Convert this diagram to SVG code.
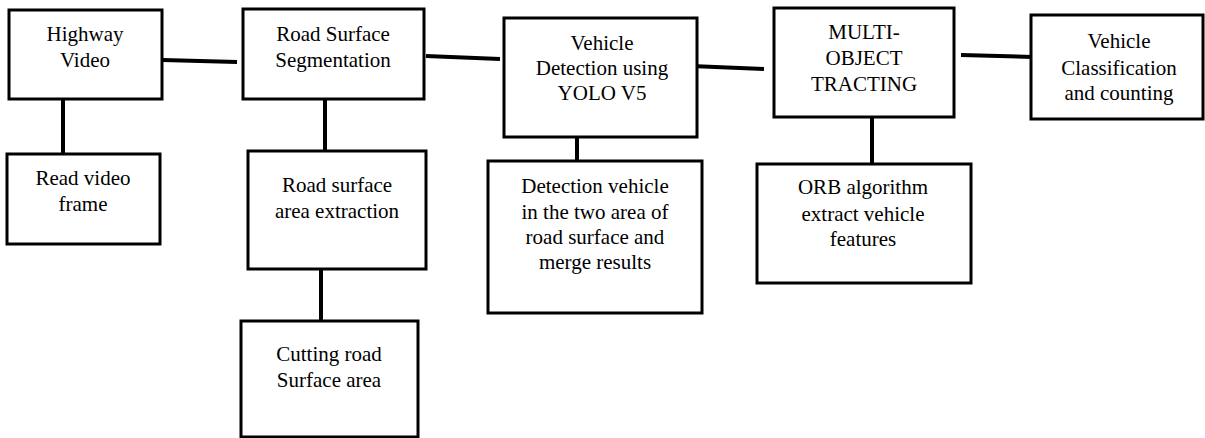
<svg xmlns="http://www.w3.org/2000/svg" width="1205" height="438" viewBox="0 0 1205 438">
<style>
.box{fill:#fff;stroke:#000;stroke-width:3}
.t{fill:#000;text-anchor:middle}
.c{stroke:#000;stroke-width:4;fill:none}
</style>
<rect width="1205" height="438" fill="#fff"/>
<g id="connectors">
<line class="c" x1="163" y1="60" x2="237" y2="62"/>
<line class="c" x1="63" y1="93" x2="63" y2="155"/>
<line class="c" x1="325" y1="96" x2="325" y2="151"/>
<line class="c" x1="321" y1="258" x2="321" y2="321"/>
<line class="c" x1="426" y1="56" x2="500" y2="59"/>
<line class="c" x1="577" y1="122" x2="577" y2="161"/>
<line class="c" x1="691" y1="66" x2="764" y2="69"/>
<line class="c" x1="961" y1="55" x2="1033" y2="57"/>
<line class="c" x1="872" y1="112" x2="872" y2="164"/>
</g>
<g font-family="Liberation Serif" font-size="21">
<g id="highway-video">
<rect class="box" x="9" y="10" width="153" height="89"/>
<text class="t" x="85" y="41">Highway</text>
<text class="t" x="85" y="67">Video</text>
</g>
<g id="read-video-frame">
<rect class="box" x="7" y="154" width="153" height="90"/>
<text class="t" x="83" y="185">Read video</text>
<text class="t" x="83" y="211">frame</text>
</g>
<g id="road-surface-segmentation">
<rect class="box" x="243" y="9" width="181" height="90"/>
<text class="t" x="333" y="41">Road Surface</text>
<text class="t" x="333" y="67">Segmentation</text>
</g>
<g id="road-surface-area-extraction">
<rect class="box" x="248" y="151" width="178" height="118"/>
<text class="t" x="337" y="192">Road surface</text>
<text class="t" x="337" y="218">area extraction</text>
</g>
<g id="cutting-road-surface-area">
<rect class="box" x="241" y="321" width="177" height="116"/>
<text class="t" x="329" y="361">Cutting road</text>
<text class="t" x="329" y="387">Surface area</text>
</g>
<g id="vehicle-detection">
<rect class="box" x="504" y="18" width="193" height="119"/>
<text class="t" x="602" y="50">Vehicle</text>
<text class="t" x="602" y="75">Detection using</text>
<text class="t" x="602" y="100">YOLO V5</text>
</g>
<g id="detection-vehicle-merge">
<rect class="box" x="488" y="161" width="214" height="152"/>
<text class="t" x="595" y="193">Detection vehicle</text>
<text class="t" x="595" y="219">in the two area of</text>
<text class="t" x="595" y="244">road surface and</text>
<text class="t" x="595" y="269">merge results</text>
</g>
<g id="multi-object-tracting">
<rect class="box" x="774" y="8" width="180" height="109"/>
<text class="t" x="864" y="39">MULTI-</text>
<text class="t" x="864" y="65">OBJECT</text>
<text class="t" x="864" y="91">TRACTING</text>
</g>
<g id="orb-algorithm">
<rect class="box" x="757" y="164" width="214" height="119"/>
<text class="t" x="863" y="194">ORB algorithm</text>
<text class="t" x="863" y="221">extract vehicle</text>
<text class="t" x="863" y="246">features</text>
</g>
<g id="vehicle-classification">
<rect class="box" x="1031" y="15" width="172" height="104"/>
<text class="t" x="1119" y="48">Vehicle</text>
<text class="t" x="1119" y="75">Classification</text>
<text class="t" x="1119" y="100">and counting</text>
</g>
</g>
</svg>
